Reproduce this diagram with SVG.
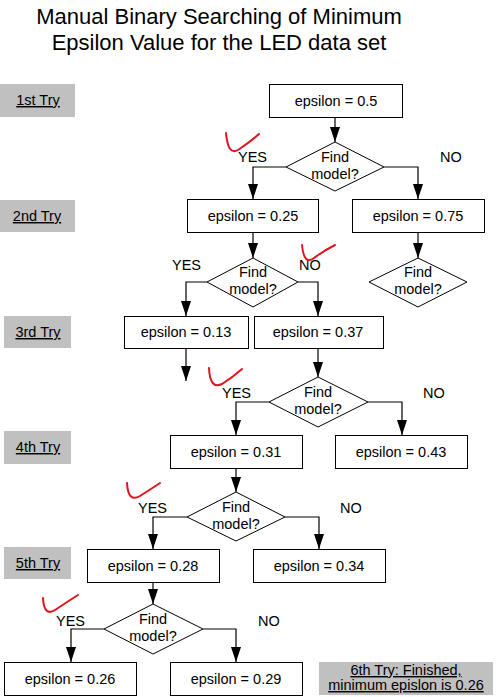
<svg xmlns="http://www.w3.org/2000/svg" width="501" height="697" viewBox="0 0 501 697">
<style>
text{font-family:"Liberation Sans",Arial,sans-serif;fill:#000}
.t{font-size:14.5px;text-anchor:middle}
.title{font-size:22px;text-anchor:middle}
.box{fill:#fff;stroke:#000;stroke-width:1}
.dia{fill:#fff;stroke:#000;stroke-width:1}
.try{fill:#c0c0c0;stroke:none}
.u{text-decoration:underline}
.c{fill:none;stroke:#000;stroke-width:1.2}
.lbl{font-size:14.5px}
.chk{fill:none;stroke:#e0141e;stroke-width:2;stroke-linecap:round}
</style>
<defs>
<marker id="ah" viewBox="0 0 15 10" refX="15" refY="5" markerWidth="15" markerHeight="10" markerUnits="userSpaceOnUse" orient="auto">
<path d="M0,0 L15,5 L0,10 z" fill="#000"/>
</marker>
</defs>
<rect width="501" height="697" fill="#fff"/>
<g id="title">
<text class="title" x="219" y="24">Manual Binary Searching of Minimum</text>
<text class="title" x="219" y="50">Epsilon Value for the LED data set</text>
</g>
<g id="connectors">
<path class="c" d="M335,117 V142" marker-end="url(#ah)"/>
<path class="c" d="M286,167 H253 V199" marker-end="url(#ah)"/>
<path class="c" d="M384,167 H418 V199" marker-end="url(#ah)"/>
<path class="c" d="M253,232 V258" marker-end="url(#ah)"/>
<path class="c" d="M418,232 V258" marker-end="url(#ah)"/>
<path class="c" d="M207,282 H186 V316" marker-end="url(#ah)"/>
<path class="c" d="M298,282 H318 V316" marker-end="url(#ah)"/>
<path class="c" d="M186,348 V381" marker-end="url(#ah)"/>
<path class="c" d="M318,348 V377" marker-end="url(#ah)"/>
<path class="c" d="M269,402 H236 V435" marker-end="url(#ah)"/>
<path class="c" d="M368,402 H402 V435" marker-end="url(#ah)"/>
<path class="c" d="M236,468 V492" marker-end="url(#ah)"/>
<path class="c" d="M187,517 H153 V549" marker-end="url(#ah)"/>
<path class="c" d="M285,517 H319 V549" marker-end="url(#ah)"/>
<path class="c" d="M153,583 V604" marker-end="url(#ah)"/>
<path class="c" d="M104,629 H71 V662" marker-end="url(#ah)"/>
<path class="c" d="M203,629 H236 V662" marker-end="url(#ah)"/>
</g>
<g id="try1"><rect class="try" x="0" y="84" width="75" height="33"/><text class="t u" x="38" y="105">1st Try</text></g>
<g id="try2"><rect class="try" x="0" y="200" width="75" height="32"/><text class="t u" x="37" y="221">2nd Try</text></g>
<g id="try3"><rect class="try" x="4" y="316" width="67" height="32"/><text class="t u" x="38" y="337">3rd Try</text></g>
<g id="try4"><rect class="try" x="4" y="431" width="67" height="33"/><text class="t u" x="38" y="452">4th Try</text></g>
<g id="try5"><rect class="try" x="4" y="547" width="67" height="32"/><text class="t u" x="38" y="568">5th Try</text></g>
<g id="try6"><rect class="try" x="319" y="662" width="174" height="33"/><text class="t u" x="406" y="675">6th Try: Finished,</text><text class="t u" x="406" y="690">minimum epislon is 0.26</text></g>
<g id="e050"><rect class="box" x="269.5" y="84.5" width="133" height="33"/><text class="t" x="336" y="106">epsilon = 0.5</text></g>
<g id="d1"><polygon class="dia" points="335,142 384,167 335,191 286,167"/><text class="t" x="335" y="162">Find</text><text class="t" x="335" y="179">model?</text></g>
<g id="e025"><rect class="box" x="187.5" y="199.5" width="131" height="33"/><text class="t" x="253" y="221">epsilon = 0.25</text></g>
<g id="e075"><rect class="box" x="352.5" y="199.5" width="132" height="33"/><text class="t" x="418" y="221">epsilon = 0.75</text></g>
<g id="d2"><polygon class="dia" points="253,258 298,282 253,307 207,282"/><text class="t" x="253" y="277">Find</text><text class="t" x="253" y="294">model?</text></g>
<g id="d2b"><polygon class="dia" points="418,258 467,282 418,307 369,282"/><text class="t" x="418" y="277">Find</text><text class="t" x="418" y="294">model?</text></g>
<g id="e013"><rect class="box" x="124.5" y="316.5" width="124" height="32"/><text class="t" x="186" y="337">epsilon = 0.13</text></g>
<g id="e037"><rect class="box" x="254.5" y="316.5" width="129" height="32"/><text class="t" x="318" y="337">epsilon = 0.37</text></g>
<g id="d3"><polygon class="dia" points="318,377 368,402 318,427 269,402"/><text class="t" x="318" y="397">Find</text><text class="t" x="318" y="414">model?</text></g>
<g id="e031"><rect class="box" x="170.5" y="435.5" width="132" height="33"/><text class="t" x="236" y="457">epsilon = 0.31</text></g>
<g id="e043"><rect class="box" x="335.5" y="435.5" width="132" height="33"/><text class="t" x="401" y="457">epsilon = 0.43</text></g>
<g id="d4"><polygon class="dia" points="236,492 285,517 236,541 187,517"/><text class="t" x="236" y="512">Find</text><text class="t" x="236" y="529">model?</text></g>
<g id="e028"><rect class="box" x="87.5" y="549.5" width="132" height="33"/><text class="t" x="153" y="571">epsilon = 0.28</text></g>
<g id="e034"><rect class="box" x="253.5" y="549.5" width="132" height="33"/><text class="t" x="319" y="571">epsilon = 0.34</text></g>
<g id="d5"><polygon class="dia" points="153,604 203,629 153,654 104,629"/><text class="t" x="153" y="624">Find</text><text class="t" x="153" y="641">model?</text></g>
<g id="e026"><rect class="box" x="4.5" y="662.5" width="132" height="33"/><text class="t" x="70" y="684">epsilon = 0.26</text></g>
<g id="e029"><rect class="box" x="170.5" y="662.5" width="132" height="33"/><text class="t" x="236" y="684">epsilon = 0.29</text></g>
<g id="labels">
<text class="lbl" x="238" y="162">YES</text><text class="lbl" x="440" y="162">NO</text>
<text class="lbl" x="172" y="270">YES</text><text class="lbl" x="299" y="270">NO</text>
<text class="lbl" x="222" y="398">YES</text><text class="lbl" x="423" y="398">NO</text>
<text class="lbl" x="138" y="513">YES</text><text class="lbl" x="340" y="513">NO</text>
<text class="lbl" x="56" y="626">YES</text><text class="lbl" x="258" y="626">NO</text>
</g>
<g id="checks">
<path class="chk" d="M226,133 Q228,156 238,150 Q250,142 259,134"/>
<path class="chk" d="M302,245 Q304,266 314,258 Q325,250 335,245"/>
<path class="chk" d="M209,368 Q210,390 222,384 Q233,377 242,369"/>
<path class="chk" d="M127,483 Q128,503 140,496 Q151,489 160,483"/>
<path class="chk" d="M43,598 Q44,617 55,610 Q67,602 78,595"/>
</g>
</svg>
